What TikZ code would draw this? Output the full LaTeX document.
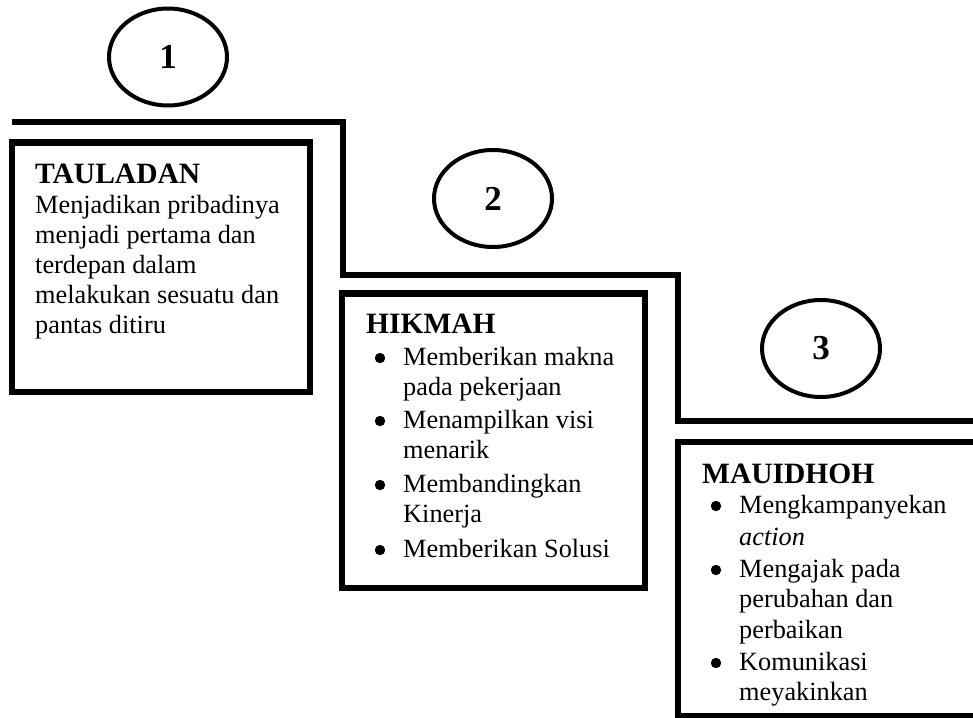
\documentclass[tikz,border=0pt]{standalone}
\usepackage{fontspec}
\setmainfont{Liberation Serif}
\usetikzlibrary{shapes.geometric}
\newcommand{\bodyfont}{\fontsize{26.3}{30}\selectfont}
\newcommand{\titlefont}{\fontsize{29.5}{30}\selectfont\bfseries}
\newcommand{\numfont}{\fontsize{35}{35}\selectfont\bfseries}
\newcommand{\bigbul}{\tikz[baseline={(0pt,-7pt)}]\fill[black] (0pt,0pt) circle (5.2pt);}
\newcommand{\bitem}[1]{\hspace*{37pt}\llap{\bigbul\hspace{18pt}}#1}
\newcommand{\bcont}[1]{\hspace*{37pt}#1}
\begin{document}
\begin{tikzpicture}[x=1pt,y=-1pt,
  stair/.style={line width=5.5pt, line join=miter},
  stepbox/.style={line width=6.5pt, line join=miter},
  num/.style={draw, ellipse, line width=4pt, minimum width=118pt, minimum height=97pt, inner sep=0pt},
  txt/.style={anchor=base west, inner sep=0pt, align=left}]
\useasboundingbox (0,0) rectangle (973,717);
\clip (0,0) rectangle (973,717);
% stairs
\coordinate (s0) at (12,122);
\coordinate (s1) at (343,122);
\coordinate (s2) at (343,275);
\coordinate (s3) at (678,275);
\coordinate (s4) at (678,421);
\coordinate (s5) at (985,421);
\draw[stair] (s0) -- (s1) -- (s2) -- (s3) -- (s4) -- (s5);
% boxes
\draw[stepbox] (12,142.5) rectangle (310,392);
\draw[stepbox] (342,293.5) rectangle (645,588);
\draw[stepbox] (678,442) rectangle (990,716);
% numbers
\node[num] (n1) at (168,57) {\numfont 1};
\node[num] (n2) at (493,198.5) {\numfont 2};
\node[num] (n3) at (821,348.5) {\numfont 3};
% texts
\node[txt] (t1) at (35,183) {\parbox[t]{270pt}{\raggedright
  {\titlefont TAULADAN}\\
  \bodyfont Menjadikan pribadinya\\
  menjadi pertama dan\\
  terdepan dalam\\
  melakukan sesuatu dan\\
  pantas ditiru}};
\node[txt] (t2) at (366,333) {\parbox[t]{275pt}{\raggedright
  {\titlefont HIKMAH}\\[2pt]
  \bodyfont
  \bitem{Memberikan makna}\\
  \bcont{pada pekerjaan}\\[3pt]
  \bitem{Menampilkan visi}\\
  \bcont{menarik}\\[4pt]
  \bitem{Membandingkan}\\
  \bcont{Kinerja}\\[5pt]
  \bitem{Memberikan Solusi}}};
\node[txt] (t3) at (702,483) {\parbox[t]{270pt}{\raggedright
  {\titlefont MAUIDHOH}\\
  \bodyfont
  \bitem{Mengkampanyekan}\\[2pt]
  \bcont{\textit{action}}\\[2pt]
  \bitem{Mengajak pada}\\
  \bcont{perubahan dan}\\[1pt]
  \bcont{perbaikan}\\[2pt]
  \bitem{Komunikasi}\\
  \bcont{meyakinkan}}};
\end{tikzpicture}
\end{document}
